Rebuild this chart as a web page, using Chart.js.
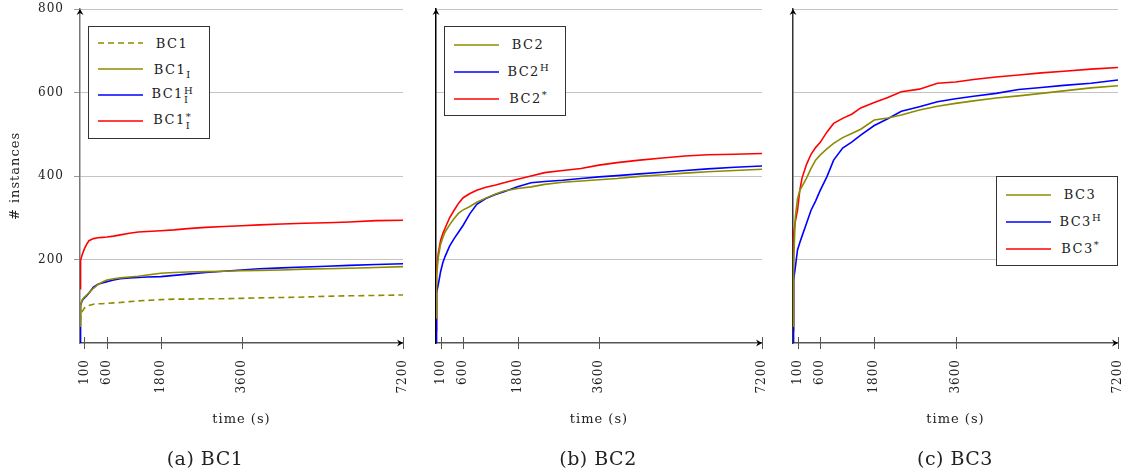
<!DOCTYPE html>
<html>
<head>
<meta charset="utf-8">
<script src="https://cdn.jsdelivr.net/npm/chart.js@4.4.1/dist/chart.umd.min.js"></script>
<style>
  html, body { margin: 0; padding: 0; background: #fff; }
  body { width: 1129px; height: 476px; position: relative; overflow: hidden;
         font-family: "DejaVu Serif", serif; color: #222; }
  canvas { position: absolute; top: 0; }
  .legend { position: absolute; background: #fff; border: 1px solid #333; box-sizing: border-box; }
  .row { display: flex; align-items: center; }
  .row svg { margin-left: 9px; flex: none; }
  .row .lab { flex: 1; text-align: center; padding-right: 8px; font-size: 13px; letter-spacing: 1.5px; white-space: nowrap; }
  .lab sub { font-size: 10px; vertical-align: -4px; line-height: 0; letter-spacing: 0; }
  .lab sup { font-size: 10px; vertical-align: 5px; line-height: 0; letter-spacing: 0; }
  .ss { display: inline-block; vertical-align: -5px; font-size: 10px; line-height: 9px; letter-spacing: 0; }
  .ss span { display: block; text-align: left; }
  .caption { position: absolute; top: 447px; width: 240px; text-align: center; font-size: 19px; letter-spacing: 0.5px; }
</style>
</head>
<body>
<canvas id="c1" width="415" height="476" style="left:0"></canvas>
<canvas id="c2" width="360" height="476" style="left:415px"></canvas>
<canvas id="c3" width="354" height="476" style="left:775px"></canvas>
<div class="caption" style="left:85px">(a) BC1</div>
<div class="caption" style="left:478px">(b) BC2</div>
<div class="caption" style="left:835px">(c) BC3</div>
<script>
// tiempos (s) donde se leen las curvas
const times = [0, 5, 20, 50, 100, 150, 200, 300, 400, 500, 600, 750, 900, 1100, 1300, 1500, 1800, 2100, 2400, 2800, 3200, 3600, 4000, 4500, 5000, 5500, 6000, 6600, 7200];
const xTicks = [100, 600, 1800, 3600, 7200];
const yTicks = [200, 400, 600, 800];

// BC1
const bc1      = [50, 55, 65, 75, 84, 87, 90, 93, 94, 94, 95, 96, 97, 99, 101, 102, 104, 105, 105, 106, 106, 107, 108, 109, 110, 112, 113, 114, 115];
const bc1I     = [40, 70, 90, 103, 110, 115, 120, 131, 140, 146, 151, 154, 156, 158, 160, 163, 167, 169, 170, 171, 172, 173, 174, 175, 177, 178, 179, 181, 183];
const bc1IH    = [0, 60, 90, 102, 108, 113, 120, 134, 141, 144, 147, 151, 154, 156, 157, 158, 159, 162, 165, 169, 172, 175, 178, 180, 182, 184, 186, 188, 190];
const bc1IStar = [130, 170, 198, 212, 226, 237, 245, 250, 252, 253, 254, 256, 259, 263, 266, 267, 269, 271, 274, 277, 279, 281, 283, 285, 287, 288, 290, 293, 294];

// BC2
const bc2     = [60, 110, 160, 205, 236, 252, 266, 283, 298, 311, 319, 327, 337, 347, 356, 364, 370, 374, 380, 385, 388, 391, 394, 399, 403, 407, 410, 413, 416];
const bc2H    = [0, 80, 120, 140, 170, 192, 207, 232, 250, 266, 282, 310, 332, 346, 355, 362, 374, 384, 387, 390, 394, 398, 401, 405, 409, 413, 417, 421, 424];
const bc2Star = [30, 120, 175, 215, 245, 262, 275, 300, 318, 335, 348, 358, 366, 373, 378, 384, 392, 400, 408, 413, 418, 426, 432, 438, 443, 448, 451, 452, 454];

// BC3
const bc3     = [40, 120, 190, 300, 345, 365, 375, 395, 418, 438, 450, 465, 478, 492, 502, 512, 534, 539, 546, 558, 567, 574, 580, 587, 592, 598, 604, 611, 616];
const bc3H    = [0, 90, 150, 180, 223, 240, 256, 287, 318, 340, 365, 398, 438, 467, 481, 498, 521, 537, 555, 566, 578, 585, 591, 598, 607, 612, 617, 622, 630];
const bc3Star = [30, 200, 260, 290, 318, 365, 395, 428, 452, 468, 480, 505, 526, 538, 548, 563, 576, 588, 602, 608, 622, 625, 631, 637, 642, 647, 651, 656, 660];

const legend1 = ['BC1', 'BC1<sub>I</sub>', 'BC1<span class="ss"><span>H</span><span>I</span></span>', 'BC1<span class="ss"><span>*</span><span>I</span></span>'];
const legend2 = ['BC2', 'BC2<sup>H</sup>', 'BC2<sup>*</sup>'];
const legend3 = ['BC3', 'BC3<sup>H</sup>', 'BC3<sup>*</sup>'];

const OLIVE = '#8c8c00', BLUE = '#0000ff', RED = '#ff0000';
const TICK_FONT = { family: 'DejaVu Serif', size: 12 };
const TITLE_FONT = { family: 'DejaVu Serif', size: 13 };

// flechas de los ejes y marcas que cruzan el eje x
const axisDeco = {
    id: 'axisDeco',
    beforeDraw(chart) { chart.ctx.letterSpacing = '1px'; },
    afterDraw(chart) {
        const { ctx, chartArea: a, scales } = chart;
        ctx.save();
        ctx.strokeStyle = '#555';
        ctx.lineWidth = 1;
        xTicks.forEach(t => {
            const px = Math.round(scales.x.getPixelForValue(t)) + 0.5;
            ctx.beginPath();
            ctx.moveTo(px, a.bottom - 6);
            ctx.lineTo(px, a.bottom + 6);
            ctx.stroke();
        });
        ctx.fillStyle = '#000';
        // arriba
        ctx.beginPath();
        ctx.moveTo(a.left, a.top);
        ctx.lineTo(a.left - 3.5, a.top + 6);
        ctx.lineTo(a.left, a.top + 4);
        ctx.lineTo(a.left + 3.5, a.top + 6);
        ctx.closePath();
        ctx.fill();
        // derecha
        ctx.beginPath();
        ctx.moveTo(a.right, a.bottom);
        ctx.lineTo(a.right - 6, a.bottom - 3.5);
        ctx.lineTo(a.right - 4, a.bottom);
        ctx.lineTo(a.right - 6, a.bottom + 3.5);
        ctx.closePath();
        ctx.fill();
        ctx.restore();
    }
};

function makeChart(id, series, opt) {
    return new Chart(document.getElementById(id), {
        type: 'line',
        data: {
            datasets: series.map(s => ({
                label: s.label,
                data: times.map((t, i) => ({ x: t, y: s.values[i] })),
                borderColor: s.color,
                borderDash: s.dash || [],
                borderWidth: 1.6,
                pointRadius: 0,
                tension: 0,
                fill: false
            }))
        },
        options: {
            responsive: false,
            animation: false,
            layout: { padding: { top: 9, right: opt.right, bottom: 43, left: 0 } },
            plugins: { legend: { display: false }, tooltip: { enabled: false } },
            scales: {
                x: {
                    type: 'linear', min: 0, max: 7200,
                    afterBuildTicks: s => { s.ticks = xTicks.map(v => ({ value: v })); },
                    afterFit: s => { s.height = 90; s.paddingLeft = 0; s.paddingRight = 0; },
                    grid: { display: false },
                    border: { color: '#555', width: 1.5 },
                    ticks: { autoSkip: false, minRotation: 90, maxRotation: 90, padding: 8, font: TICK_FONT, color: '#222',
                             callback: v => String(v) },
                    title: { display: true, text: 'time (s)', font: TITLE_FONT, color: '#222', padding: { top: 0, bottom: 6 } }
                },
                y: {
                    min: 0, max: 800,
                    afterBuildTicks: s => { s.ticks = yTicks.map(v => ({ value: v })); },
                    afterFit: s => { s.width = opt.yWidth; s.paddingTop = 0; s.paddingBottom = 0; },
                    grid: { color: '#c4c4c4', lineWidth: 1, drawTicks: opt.showY, tickLength: 6, tickColor: '#999' },
                    border: { color: opt.axisColor, width: 1.5 },
                    ticks: { display: opt.showY, padding: 10, font: TICK_FONT, color: '#222', callback: v => String(v) },
                    title: { display: opt.showY, text: '# instances', font: TITLE_FONT, color: '#222', padding: { top: 8, bottom: 0 } }
                }
            }
        },
        plugins: [axisDeco]
    });
}

function addLegend(chart, labels, box) {
    const div = document.createElement('div');
    div.className = 'legend';
    Object.assign(div.style, {
        left: box.left + 'px', top: box.top + 'px', width: box.width + 'px',
        height: box.height + 'px', paddingTop: box.padTop + 'px'
    });
    chart.data.datasets.forEach((ds, i) => {
        const row = document.createElement('div');
        row.className = 'row';
        row.style.height = box.rowH + 'px';
        const dash = ds.borderDash.length ? ` stroke-dasharray="${ds.borderDash.join(' ')}"` : '';
        row.innerHTML = `<svg width="45" height="4"><line x1="0" y1="2" x2="45" y2="2" stroke="${ds.borderColor}" stroke-width="1.6"${dash}/></svg>` +
            `<div class="lab">${labels[i]}</div>`;
        div.appendChild(row);
    });
    document.body.appendChild(div);
}

const chart1 = makeChart('c1', [
    { label: 'BC1', values: bc1, color: OLIVE, dash: [6, 4] },
    { label: 'BC1_I', values: bc1I, color: OLIVE },
    { label: 'BC1_I^H', values: bc1IH, color: BLUE },
    { label: 'BC1_I^*', values: bc1IStar, color: RED }
], { right: 12, yWidth: 80, showY: true, axisColor: '#777' });

const chart2 = makeChart('c2', [
    { label: 'BC2', values: bc2, color: OLIVE },
    { label: 'BC2^H', values: bc2H, color: BLUE },
    { label: 'BC2^*', values: bc2Star, color: RED }
], { right: 13, yWidth: 21, showY: false, axisColor: '#000' });

const chart3 = makeChart('c3', [
    { label: 'BC3', values: bc3, color: OLIVE },
    { label: 'BC3^H', values: bc3H, color: BLUE },
    { label: 'BC3^*', values: bc3Star, color: RED }
], { right: 11, yWidth: 18, showY: false, axisColor: '#333' });

addLegend(chart1, legend1, { left: 88, top: 26, width: 122, height: 113, padTop: 3, rowH: 26 });
addLegend(chart2, legend2, { left: 444, top: 26, width: 122, height: 90, padTop: 4, rowH: 27 });
addLegend(chart3, legend3, { left: 996, top: 176, width: 122, height: 90, padTop: 4, rowH: 27 });
</script>
</body>
</html>
